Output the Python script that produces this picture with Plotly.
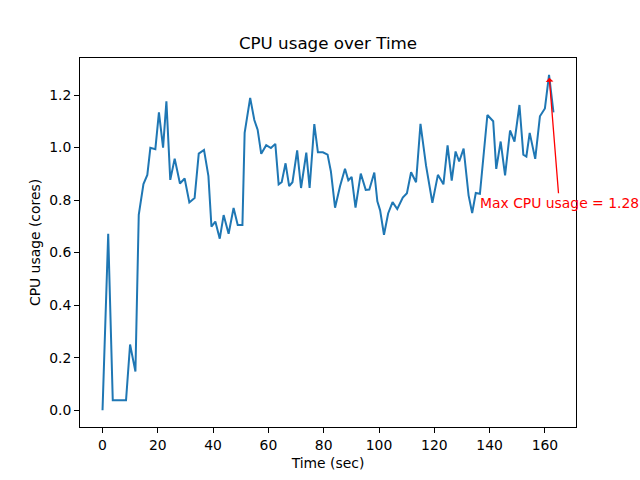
import plotly.graph_objects as go

time_sec = [0, 2.05, 3.7, 5.3, 6.9, 8.5, 9.96, 11.9, 13.1, 14.8, 16.2, 17.3, 19.1, 20.4, 21.9, 23.1,
            24.5, 26.1, 28.0, 29.7, 31.4, 33.3, 34.8, 36.7, 38.3, 39.4, 40.8, 42.4, 43.8, 45.6,
            47.4, 48.9, 50.6, 51.4, 53.4, 54.9, 56.1, 57.4, 59.2, 60.9, 62.5, 63.7, 64.8, 66.2,
            67.5, 68.7, 70.4, 71.8, 73.7, 74.9, 76.6, 77.9, 79.7, 81.4, 82.6, 84.1, 85.9, 87.7,
            88.9, 90.1, 91.5, 93.4, 95.2, 96.5, 98.3, 99.4, 100.4, 101.8, 103.3, 104.9, 106.6,
            108.6, 110.1, 111.6, 113.4, 115.0, 117.0, 119.3, 121.3, 123.3, 124.8, 126.3, 127.7,
            129.0, 130.6, 132.4, 133.7, 135.0, 136.5, 139.2, 141.3, 142.4, 144.0, 145.6, 147.4,
            149.0, 150.8, 152.2, 153.3, 154.5, 156.5, 158.2, 160.0, 161.5, 163.1]
cpu_cores = [0, 0.672, 0.038, 0.038, 0.038, 0.038, 0.25, 0.147, 0.744, 0.861, 0.896, 0.999, 0.994,
             1.134, 1.0, 1.176, 0.877, 0.958, 0.863, 0.882, 0.791, 0.808, 0.977, 0.991, 0.891,
             0.699, 0.718, 0.653, 0.743, 0.672, 0.77, 0.705, 0.705, 1.056, 1.189, 1.105, 1.068,
             0.976, 1.009, 0.998, 1.014, 0.86, 0.868, 0.94, 0.853, 0.868, 0.989, 0.846, 0.981,
             0.846, 1.089, 0.982, 0.982, 0.973, 0.909, 0.771, 0.853, 0.919, 0.875, 0.888, 0.771,
             0.901, 0.839, 0.84, 0.905, 0.795, 0.761, 0.668, 0.749, 0.792, 0.766, 0.81, 0.826,
             0.906, 0.868, 1.09, 0.932, 0.79, 0.896, 0.86, 1.008, 0.874, 0.985, 0.947, 0.996,
             0.818, 0.751, 0.827, 0.824, 1.124, 1.1, 0.919, 1.023, 0.894, 1.065, 1.023, 1.162,
             0.973, 0.966, 1.056, 0.957, 1.119, 1.149, 1.277, 1.134]
x_ticks = [0, 20, 40, 60, 80, 100, 120, 140, 160]
y_ticks = [0.0, 0.2, 0.4, 0.6, 0.8, 1.0, 1.2]

imax = max(range(len(cpu_cores)), key=lambda i: cpu_cores[i])
tmax, vmax = time_sec[imax], cpu_cores[imax]

FONT = "DejaVu Sans"
FS = 13.9
W, H = 640, 480
fig = go.Figure()
fig.add_trace(go.Scatter(x=time_sec, y=cpu_cores, mode="lines",
                         line=dict(color="#1f77b4", width=2), showlegend=False))

fig.add_annotation(x=tmax, y=vmax, xref="x", yref="y",
                   ax=165.2, ay=0.79, axref="x", ayref="y",
                   text=f"Max CPU usage = {vmax:.2f}", showarrow=True,
                   arrowhead=1, arrowsize=1, arrowwidth=1.3, arrowcolor="red", standoff=3,
                   font=dict(color="red", size=FS, family=FONT))

axis_common = dict(showline=True, linecolor="black", linewidth=1, mirror=True,
                   ticks="outside", ticklen=5, tickwidth=1, tickcolor="black",
                   showgrid=False, zeroline=False, automargin=False,
                   tickfont=dict(size=FS, family=FONT, color="black"))
fig.update_xaxes(range=[-8.15, 171.25], tickvals=x_ticks,
                 ticktext=[str(v) for v in x_ticks],
                 title=dict(text="Time (sec)", font=dict(size=FS, family=FONT, color="black"), standoff=6),
                 **axis_common)
fig.update_yaxes(range=[-0.064, 1.341], tickvals=y_ticks,
                 ticktext=[f"{v:.1f}" for v in y_ticks],
                 title=dict(text="CPU usage (cores)", font=dict(size=FS, family=FONT, color="black"), standoff=5),
                 **axis_common)
fig.update_layout(width=W, height=H,
                  margin=dict(l=80, r=64, t=58, b=53),
                  plot_bgcolor="white", paper_bgcolor="white",
                  title=dict(text="CPU usage over Time", x=328 / W, xanchor="center",
                             y=1 - 43 / H, yanchor="middle", yref="container",
                             font=dict(size=16.7, family=FONT, color="black")))
fig.write_html("out.html", config={"displayModeBar": False},
               post_script="document.body.style.margin='0px';document.body.style.overflow='hidden';")
